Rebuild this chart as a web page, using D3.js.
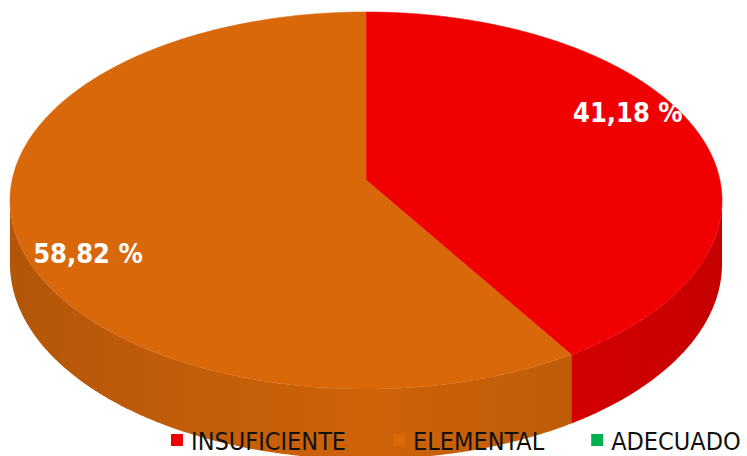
<!DOCTYPE html>
<html>
<head>
<meta charset="utf-8">
<script src="https://cdn.jsdelivr.net/npm/d3@7/dist/d3.min.js"></script>
<style>
  html, body { margin: 0; padding: 0; background: #fff; }
  svg { display: block; }
  .cond { font-family: "DejaVu Sans Condensed", "DejaVu Sans", sans-serif; font-stretch: condensed; }
</style>
</head>
<body>
<svg id="chart" width="747" height="456"></svg>
<script>
// Distribution of performance levels
const categories = ["INSUFICIENTE", "ELEMENTAL", "ADECUADO"];
const values = [41.18, 58.82, 0];
const colors = ["#F00000", "#D9680A", "#00B050"];
const labelTexts = ["41,18 %", "58,82 %", ""];

const svg = d3.select("#chart");
const defs = svg.append("defs");

// 3D perspective pie geometry
const CX = 366, CY = 180;      // projected pie centre
const RX = 353.9, RY = 186.3;  // projected radii
const PERSP = 0.1087;          // perspective strength (front is nearer)
const DEPTH = 62.6;            // thickness of the disc

function project(theta, r, down) {
  const u = r * Math.sin(theta), v = -r * Math.cos(theta);
  const w = 1 - PERSP * v;
  return [CX + RX * u / w, CY + RY * v / w + (down ? DEPTH / w : 0)];
}

const pie = d3.pie().sort(null).value(d => d.value).startAngle(0).endAngle(2 * Math.PI);
const data = categories.map((c, i) => ({ name: c, value: values[i], color: colors[i], label: labelTexts[i] }));
const arcs = pie(data).filter(a => a.data.value > 0);

const line = d3.line();
const STEP = Math.PI / 360;

function arcPoints(a0, a1, down) {
  const n = Math.max(2, Math.ceil((a1 - a0) / STEP));
  return d3.range(n + 1).map(i => project(a0 + (a1 - a0) * i / n, 1, down));
}

// Visible outer wall lies between the two silhouette points
const VIS0 = Math.acos(-PERSP), VIS1 = 2 * Math.PI - Math.acos(-PERSP);

const shade = t => 0.95 - 0.13 * Math.abs(Math.sin(t));

// Outer walls, shaded with a horizontal gradient that follows the wall angle
const sideG = svg.append("g");
arcs.forEach((a, idx) => {
  const s0 = Math.max(a.startAngle, VIS0), s1 = Math.min(a.endAngle, VIS1);
  if (s1 <= s0) return;
  const base = d3.rgb(a.data.color);
  const x0 = project(s0, 1, false)[0], x1 = project(s1, 1, false)[0];
  const gid = "wall" + idx;
  const grad = defs.append("linearGradient")
    .attr("id", gid)
    .attr("gradientUnits", "userSpaceOnUse")
    .attr("x1", x0).attr("y1", 0).attr("x2", x1).attr("y2", 0);
  const n = 24;
  d3.range(n + 1).forEach(i => {
    const t = s0 + (s1 - s0) * i / n;
    const x = project(t, 1, false)[0];
    const k = shade(t);
    grad.append("stop")
      .attr("offset", (x - x0) / (x1 - x0))
      .attr("stop-color", d3.rgb(base.r * k, base.g * k, base.b * k).formatHex());
  });
  const top = arcPoints(s0, s1, false);
  const bot = arcPoints(s0, s1, true).reverse();
  sideG.append("path")
    .attr("d", line(top.concat(bot)) + "Z")
    .attr("fill", `url(#${gid})`);
});

// Top faces
const topG = svg.append("g");
arcs.forEach(a => {
  const pts = [[CX, CY]].concat(arcPoints(a.startAngle, a.endAngle, false));
  topG.append("path")
    .attr("d", line(pts) + "Z")
    .attr("fill", a.data.color)
    .attr("stroke", a.data.color)
    .attr("stroke-width", 0.5);
});

// Value labels
const LABEL_R = 0.85, LABEL_SHIFT = -10.5 * Math.PI / 180, LABEL_DX = 3;
const labelPos = d => project((d.startAngle + d.endAngle) / 2 + LABEL_SHIFT, LABEL_R, false);
svg.append("g").selectAll("text")
  .data(arcs)
  .join("text")
  .attr("class", "cond")
  .attr("x", d => labelPos(d)[0] + LABEL_DX)
  .attr("y", d => labelPos(d)[1])
  .attr("dy", "0.36em")
  .attr("text-anchor", "middle")
  .attr("font-size", 27)
  .attr("font-weight", "bold")
  .attr("fill", "#ffffff")
  .text(d => d.data.label);

// Legend
const legend = svg.append("g");
let lx = 171;
const LY = 440;
data.forEach(d => {
  legend.append("rect")
    .attr("x", lx).attr("y", LY - 6)
    .attr("width", 12).attr("height", 12)
    .attr("fill", d.color);
  const t = legend.append("text")
    .attr("class", "cond")
    .attr("x", lx + 20).attr("y", LY + 10)
    .attr("font-size", 25)
    .attr("fill", "#111")
    .text(d.name);
  lx += 20 + t.node().getComputedTextLength() + 47;
});
</script>
</body>
</html>
